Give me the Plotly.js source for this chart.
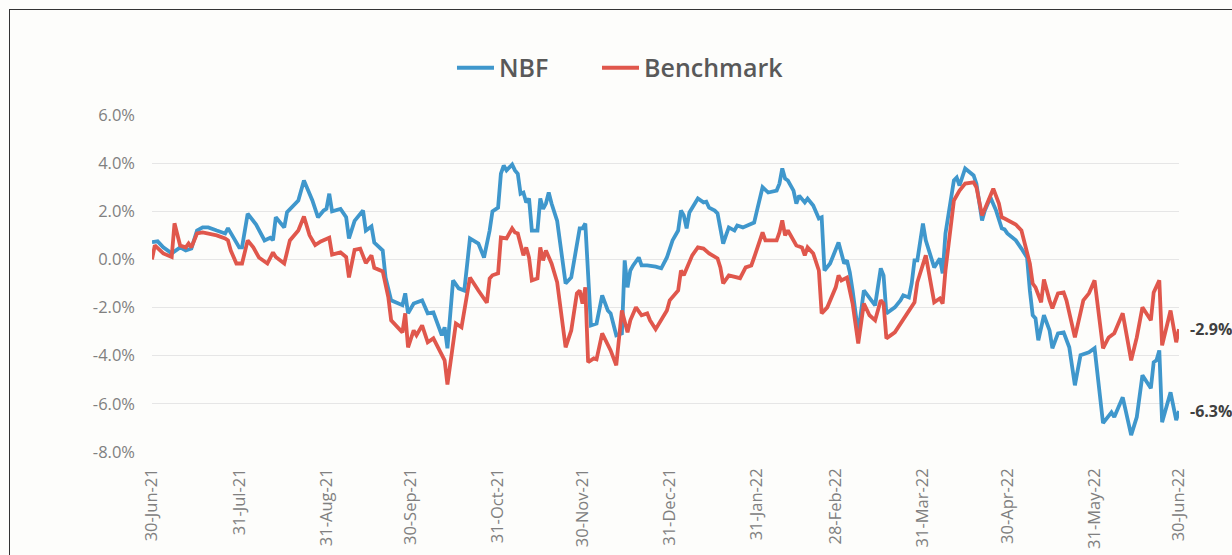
<!DOCTYPE html>
<html>
<head>
<meta charset="utf-8">
<script src="https://cdn.plot.ly/plotly-3.0.1.min.js"></script>
<style>
  html, body { margin: 0; padding: 0; width: 1232px; height: 555px; overflow: hidden; background: #fdfdfb; }
  #chart { position: absolute; left: 0; top: 0; width: 1232px; height: 555px; }
  #frame { position: absolute; left: 9px; top: 9px; width: 1260px; height: 600px; border: 1.5px solid #333; pointer-events: none; }
</style>
</head>
<body>
<div id="chart"></div>
<div id="frame"></div>
<script>
const nbfDates = [
 '2021-06-30','2021-07-02','2021-07-04','2021-07-07','2021-07-10','2021-07-12','2021-07-14','2021-07-16','2021-07-18','2021-07-20','2021-07-23','2021-07-26','2021-07-27','2021-07-29','2021-07-31',
 '2021-08-01','2021-08-03','2021-08-06','2021-08-09','2021-08-11','2021-08-12','2021-08-13','2021-08-16','2021-08-17','2021-08-19','2021-08-21','2021-08-23','2021-08-26','2021-08-28','2021-08-30','2021-08-31',
 '2021-09-01','2021-09-02','2021-09-05','2021-09-07','2021-09-08','2021-09-10','2021-09-13','2021-09-14','2021-09-16','2021-09-17','2021-09-20','2021-09-21','2021-09-23','2021-09-27','2021-09-28','2021-09-29',
 '2021-10-01','2021-10-04','2021-10-06','2021-10-08','2021-10-09','2021-10-11','2021-10-12','2021-10-13','2021-10-15','2021-10-17','2021-10-19','2021-10-21','2021-10-24','2021-10-26','2021-10-28','2021-10-29','2021-10-31',
 '2021-11-01','2021-11-02','2021-11-03','2021-11-05','2021-11-06','2021-11-07','2021-11-08','2021-11-09','2021-11-10','2021-11-11','2021-11-12','2021-11-14','2021-11-15','2021-11-16','2021-11-17','2021-11-18','2021-11-19','2021-11-21','2021-11-23','2021-11-24','2021-11-26','2021-11-29','2021-11-30',
 '2021-12-01','2021-12-03','2021-12-05','2021-12-07','2021-12-09','2021-12-10','2021-12-12','2021-12-14','2021-12-15','2021-12-16','2021-12-17','2021-12-18','2021-12-20','2021-12-21','2021-12-23','2021-12-26','2021-12-28','2021-12-30',
 '2022-01-01','2022-01-03','2022-01-04','2022-01-05','2022-01-06','2022-01-07','2022-01-10','2022-01-12','2022-01-13','2022-01-14','2022-01-16','2022-01-17','2022-01-18','2022-01-19','2022-01-20','2022-01-21','2022-01-23','2022-01-24','2022-01-26','2022-01-28','2022-01-30','2022-01-31',
 '2022-02-02','2022-02-04','2022-02-07','2022-02-08','2022-02-09','2022-02-10','2022-02-11','2022-02-13','2022-02-14','2022-02-15','2022-02-17','2022-02-18','2022-02-20','2022-02-22','2022-02-23','2022-02-24','2022-02-26',
 '2022-03-01','2022-03-03','2022-03-04','2022-03-05','2022-03-06','2022-03-08','2022-03-10','2022-03-12','2022-03-14','2022-03-16','2022-03-17','2022-03-18','2022-03-21','2022-03-23','2022-03-24','2022-03-26','2022-03-27','2022-03-28','2022-03-29','2022-03-31',
 '2022-04-01','2022-04-04','2022-04-06','2022-04-07','2022-04-08','2022-04-11','2022-04-12','2022-04-13','2022-04-15','2022-04-18','2022-04-19','2022-04-21','2022-04-22','2022-04-24','2022-04-26','2022-04-28','2022-04-29','2022-04-30',
 '2022-05-03','2022-05-05','2022-05-07','2022-05-08','2022-05-09','2022-05-10','2022-05-11','2022-05-13','2022-05-15','2022-05-16','2022-05-18','2022-05-20','2022-05-22','2022-05-24','2022-05-26','2022-05-29','2022-05-31',
 '2022-06-03','2022-06-05','2022-06-06','2022-06-07','2022-06-10','2022-06-13','2022-06-15','2022-06-17','2022-06-20','2022-06-21','2022-06-22','2022-06-23','2022-06-24','2022-06-27','2022-06-29','2022-06-30'
];
const nbfValues = [
 0.72,0.75,0.5,0.25,0.5,0.37,0.45,1.2,1.33,1.33,1.2,1.08,1.3,0.9,0.5,
 0.5,1.9,1.45,0.79,0.9,0.8,1.75,1.33,1.96,2.2,2.45,3.28,2.45,1.75,2.03,2.1,
 2.73,2.0,2.1,1.75,0.87,1.6,2.03,1.2,1.37,0.7,0.37,-0.75,-1.7,-1.9,-1.41,-2.24,
 -1.83,-1.7,-2.24,-2.2,-2.53,-3.15,-2.82,-3.69,-0.87,-1.2,-1.29,0.87,0.66,0.08,1.2,2.0,2.15,
 3.56,3.9,3.7,3.94,3.7,3.56,2.73,2.78,2.37,2.53,1.2,1.2,2.53,2.1,2.32,2.78,2.32,1.6,-0.04,-1.0,-0.75,1.29,1.29,
 1.49,-2.74,-2.66,-1.49,-2.12,-2.24,-3.15,-3.07,-0.04,-1.16,-0.46,-0.25,0.08,-0.25,-0.25,-0.3,-0.37,0.08,
 0.79,1.2,2.03,1.83,1.29,1.95,2.53,2.37,2.4,2.15,2.03,1.91,1.33,0.66,1.0,1.33,1.2,1.41,1.33,1.41,1.53,2.03,
 3.0,2.78,2.86,3.15,3.78,3.36,3.28,2.86,2.32,2.65,2.37,2.53,2.24,1.7,1.75,-0.46,-0.17,
 0.7,-0.17,-0.04,-0.54,-1.29,-3.07,-1.29,-1.62,-1.91,-0.37,-0.66,-2.24,-1.99,-1.7,-1.49,-1.58,-1.0,-0.04,-0.04,1.49,
 0.79,-0.33,0.04,-0.58,1.08,3.28,3.4,3.07,3.78,3.49,3.15,1.62,2.03,2.57,2.03,1.29,1.25,1.08,
 0.79,0.45,0.08,-1.29,-2.32,-2.45,-3.36,-2.32,-2.95,-3.69,-3.07,-3.03,-3.65,-5.23,-3.98,-3.86,-3.69,
 -6.8,-6.47,-6.35,-6.55,-5.73,-7.3,-6.55,-4.81,-5.35,-4.27,-4.19,-3.78,-6.76,-5.52,-6.68,-6.3
];
const benchDates = [
 '2021-06-30','2021-07-01','2021-07-04','2021-07-07','2021-07-08','2021-07-10','2021-07-12','2021-07-13','2021-07-14','2021-07-16','2021-07-18','2021-07-23','2021-07-26','2021-07-27','2021-07-28','2021-07-30',
 '2021-08-01','2021-08-03','2021-08-05','2021-08-07','2021-08-10','2021-08-12','2021-08-13','2021-08-16','2021-08-18','2021-08-21','2021-08-23','2021-08-25','2021-08-27','2021-08-29',
 '2021-09-01','2021-09-02','2021-09-05','2021-09-07','2021-09-08','2021-09-09','2021-09-10','2021-09-12','2021-09-14','2021-09-16','2021-09-17','2021-09-20','2021-09-22','2021-09-23','2021-09-26','2021-09-27','2021-09-28','2021-09-29',
 '2021-10-01','2021-10-02','2021-10-04','2021-10-06','2021-10-08','2021-10-10','2021-10-12','2021-10-13','2021-10-16','2021-10-18','2021-10-21','2021-10-24','2021-10-27','2021-10-28','2021-10-29','2021-10-31',
 '2021-11-01','2021-11-03','2021-11-05','2021-11-06','2021-11-07','2021-11-09','2021-11-10','2021-11-11','2021-11-12','2021-11-14','2021-11-15','2021-11-16','2021-11-17','2021-11-19','2021-11-21','2021-11-24','2021-11-26','2021-11-28','2021-11-29','2021-11-30',
 '2021-12-01','2021-12-02','2021-12-04','2021-12-05','2021-12-07','2021-12-10','2021-12-12','2021-12-14','2021-12-16','2021-12-17','2021-12-19','2021-12-21','2021-12-23','2021-12-24','2021-12-26','2021-12-30','2021-12-31',
 '2022-01-03','2022-01-04','2022-01-05','2022-01-06','2022-01-08','2022-01-10','2022-01-12','2022-01-14','2022-01-17','2022-01-18','2022-01-19','2022-01-21','2022-01-24','2022-01-25','2022-01-27','2022-01-29','2022-01-30',
 '2022-02-02','2022-02-03','2022-02-07','2022-02-08','2022-02-09','2022-02-10','2022-02-11','2022-02-14','2022-02-16','2022-02-17','2022-02-18','2022-02-20','2022-02-22','2022-02-23','2022-02-25','2022-02-28',
 '2022-03-01','2022-03-02','2022-03-04','2022-03-06','2022-03-08','2022-03-10','2022-03-12','2022-03-14','2022-03-16','2022-03-17','2022-03-18','2022-03-21','2022-03-22','2022-03-24','2022-03-28','2022-03-29',
 '2022-04-01','2022-04-04','2022-04-06','2022-04-07','2022-04-08','2022-04-11','2022-04-12','2022-04-13','2022-04-15','2022-04-18','2022-04-19','2022-04-21','2022-04-22','2022-04-25','2022-04-27','2022-04-28','2022-04-29',
 '2022-05-03','2022-05-05','2022-05-08','2022-05-09','2022-05-10','2022-05-12','2022-05-13','2022-05-15','2022-05-16','2022-05-18','2022-05-20','2022-05-21','2022-05-24','2022-05-27','2022-05-29','2022-05-31',
 '2022-06-03','2022-06-05','2022-06-06','2022-06-07','2022-06-10','2022-06-13','2022-06-15','2022-06-17','2022-06-20','2022-06-21','2022-06-23','2022-06-24','2022-06-27','2022-06-29','2022-06-30'
];
const benchValues = [
 0.0,0.58,0.25,0.1,1.5,0.58,0.5,0.66,0.5,1.08,1.12,1.0,0.87,0.79,0.37,-0.17,
 -0.17,0.79,0.5,0.08,-0.17,0.29,0.1,-0.17,0.79,1.2,1.78,1.0,0.6,0.75,
 0.9,0.2,0.29,0.1,-0.75,-0.17,0.4,0.45,-0.15,0.17,-0.35,-0.5,-1.58,-2.53,-2.95,-3.03,-2.24,-3.65,
 -2.95,-3.15,-2.74,-3.44,-3.28,-3.78,-4.19,-5.2,-2.66,-2.82,-0.75,-1.29,-1.8,-0.79,-0.66,-0.58,
 0.91,0.87,1.29,1.12,1.08,0.17,0.5,0.08,-0.87,-0.79,0.5,-0.04,0.37,-0.17,-0.95,-3.65,-2.95,-1.41,-1.29,-1.83,
 -1.16,-4.27,-4.11,-4.15,-3.07,-3.78,-4.4,-2.12,-3.03,-2.53,-1.99,-2.32,-2.24,-2.53,-2.9,-2.12,-1.7,
 -1.29,-0.46,-0.66,-0.37,0.17,0.5,0.45,0.25,0.04,-0.33,-1.0,-0.66,-0.75,-0.78,-0.33,-0.25,0.08,
 1.12,0.79,0.79,1.12,1.62,1.0,1.2,0.58,0.5,0.17,0.5,0.25,-0.46,-2.24,-1.99,-1.16,
 -0.66,-0.87,-0.75,-1.83,-3.49,-1.83,-2.32,-2.53,-1.7,-1.83,-3.28,-3.03,-2.86,-2.45,-1.78,-0.95,
 0.17,-1.78,-1.62,-1.83,-0.46,2.45,2.65,2.86,3.15,3.2,3.0,1.83,2.1,2.94,2.32,1.75,1.7,
 1.45,1.2,-0.17,-1.0,-1.16,-1.78,-0.83,-1.7,-2.03,-1.41,-1.37,-1.7,-3.24,-1.7,-1.41,-0.87,
 -3.69,-3.24,-3.15,-3.07,-2.24,-4.19,-3.24,-1.99,-2.53,-1.37,-0.87,-3.57,-2.12,-3.44,-2.9
];
const xTickDates = ['2021-06-30','2021-07-31','2021-08-31','2021-09-30','2021-10-31','2021-11-30','2021-12-31','2022-01-31','2022-02-28','2022-03-31','2022-04-30','2022-05-31','2022-06-30'];
const xTickLabels = ['30-Jun-21','31-Jul-21','31-Aug-21','30-Sep-21','31-Oct-21','30-Nov-21','31-Dec-21','31-Jan-22','28-Feb-22','31-Mar-22','30-Apr-22','31-May-22','30-Jun-22'];
const yTickValues = [-8, -6, -4, -2, 0, 2, 4, 6];
const yTickLabels = ['-8.0%','-6.0%','-4.0%','-2.0%','0.0%','2.0%','4.0%','6.0%'];
const seriesNames = ['NBF', 'Benchmark'];

const blue = '#3f97cc';
const red = '#e0574c';
const tickFont = { family: 'Open Sans, sans-serif', size: 16.5, color: '#808080' };
const legendFont = { family: 'Open Sans, sans-serif', size: 25, color: '#595959', weight: 600 };
const yMin = -8, yMax = 6;

const traces = [
  { x: nbfDates, y: nbfValues, name: seriesNames[0], type: 'scatter', mode: 'lines',
    line: { color: blue, width: 3.8 }, xaxis: 'x', yaxis: 'y', legend: 'legend' },
  { x: benchDates, y: benchValues, name: seriesNames[1], type: 'scatter', mode: 'lines',
    line: { color: red, width: 3.8 }, xaxis: 'x', yaxis: 'y', legend: 'legend2' }
];

const lastNbf = nbfValues[nbfValues.length - 1];
const lastBench = benchValues[benchValues.length - 1];
const endFont = { family: 'Open Sans, sans-serif', size: 16, color: '#404040', weight: 'bold' };

const layout = {
  width: 1232, height: 555,
  margin: { l: 152, r: 53, t: 115, b: 103 },
  paper_bgcolor: '#fdfdfb', plot_bgcolor: '#fdfdfb',
  showlegend: true,
  legend: {
    orientation: 'h', x: 0.2921, xanchor: 'left', y: 1.1395, yanchor: 'middle',
    itemwidth: 37, font: legendFont, bgcolor: 'rgba(0,0,0,0)'
  },
  legend2: {
    orientation: 'h', x: 0.4333, xanchor: 'left', y: 1.1395, yanchor: 'middle',
    itemwidth: 37, font: legendFont, bgcolor: 'rgba(0,0,0,0)'
  },
  xaxis: {
    type: 'date', range: [xTickDates[0], xTickDates[xTickDates.length - 1]],
    tickmode: 'array', tickvals: xTickDates, ticktext: xTickLabels,
    tickangle: -90, tickfont: tickFont, ticklabelstandoff: 12,
    showgrid: false, zeroline: false, showline: false, ticks: '',
    fixedrange: true
  },
  xaxis2: {
    type: 'date', range: [xTickDates[0], xTickDates[xTickDates.length - 1]],
    overlaying: 'x', anchor: 'free', position: (0 - yMin) / (yMax - yMin), side: 'bottom',
    tickmode: 'array', tickvals: xTickDates, showticklabels: false,
    ticks: 'outside', ticklen: 5, tickcolor: '#d9d9d9', tickwidth: 1,
    showline: true, linecolor: '#d9d9d9', linewidth: 1,
    showgrid: false, zeroline: false, fixedrange: true
  },
  yaxis: {
    range: [yMin, yMax], tickmode: 'array', tickvals: yTickValues, ticktext: yTickLabels,
    tickfont: tickFont, ticklabelstandoff: 16,
    showgrid: true, gridcolor: '#e6e6e6', gridwidth: 1,
    zeroline: false, showline: false, ticks: '', fixedrange: true
  },
  annotations: [
    { x: nbfDates[nbfDates.length - 1], y: lastNbf, xref: 'x', yref: 'y',
      text: lastNbf.toFixed(1) + '%', showarrow: false, xanchor: 'left', yanchor: 'middle',
      xshift: 9, font: endFont },
    { x: benchDates[benchDates.length - 1], y: lastBench, xref: 'x', yref: 'y',
      text: lastBench.toFixed(1) + '%', showarrow: false, xanchor: 'left', yanchor: 'middle',
      xshift: 9, font: endFont }
  ],
  hovermode: false
};

Plotly.newPlot('chart', traces, layout, { displayModeBar: false, staticPlot: true });
</script>
</body>
</html>
